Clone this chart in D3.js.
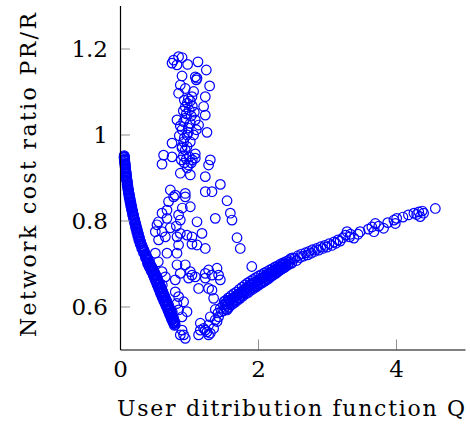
<!DOCTYPE html>
<html>
<head>
<meta charset="utf-8">
<script src="https://cdn.jsdelivr.net/npm/d3@7"></script>
<style>
  body { margin: 0; background: #fff; }
  svg { display: block; }
</style>
</head>
<body>
<div class="chart"></div>
<script>
// tick values / labels
const xTicks = [0, 2, 4];
const xTickLabels = ['0', '2', '4'];
const yTicks = [0.6, 0.8, 1, 1.2];
const yTickLabels = ['0.6', '0.8', '1', '1.2'];

// [Q, PR/R] points
// steep falling band near the y axis
const steepBand = [
  [0.060,0.951],[0.065,0.948],[0.058,0.946],[0.068,0.943],[0.062,0.949],
  [0.064,0.940],[0.070,0.938],[0.066,0.935],[0.074,0.933],[0.068,0.941],
  [0.071,0.930],[0.077,0.928],[0.073,0.925],[0.081,0.922],[0.075,0.931],
  [0.078,0.920],[0.084,0.917],[0.080,0.915],[0.088,0.912],[0.082,0.921],
  [0.086,0.910],[0.091,0.907],[0.087,0.904],[0.096,0.902],[0.089,0.911],
  [0.093,0.900],[0.099,0.897],[0.095,0.894],[0.104,0.892],[0.097,0.901],
  [0.101,0.890],[0.108,0.887],[0.103,0.884],[0.112,0.882],[0.105,0.891],
  [0.109,0.880],[0.116,0.877],[0.112,0.874],[0.122,0.872],[0.114,0.881],
  [0.118,0.870],[0.126,0.867],[0.121,0.864],[0.132,0.862],[0.123,0.871],
  [0.128,0.860],[0.137,0.857],[0.131,0.854],[0.143,0.852],[0.134,0.861],
  [0.140,0.850],[0.149,0.847],[0.143,0.844],[0.156,0.842],[0.146,0.851],
  [0.153,0.840],[0.161,0.837],[0.155,0.834],[0.169,0.832],[0.158,0.841],
  [0.166,0.830],[0.174,0.827],[0.168,0.824],[0.182,0.822],[0.171,0.831],
  [0.179,0.820],[0.188,0.817],[0.181,0.814],[0.196,0.812],[0.184,0.821],
  [0.193,0.810],[0.202,0.807],[0.195,0.804],[0.211,0.802],[0.198,0.811],
  [0.208,0.800],[0.218,0.797],[0.210,0.794],[0.227,0.792],[0.214,0.801],
  [0.224,0.790],[0.234,0.787],[0.225,0.784],[0.243,0.782],[0.230,0.791],
  [0.240,0.780],[0.251,0.777],[0.241,0.774],[0.259,0.772],[0.246,0.781],
  [0.256,0.770],[0.268,0.767],[0.257,0.764],[0.276,0.762],[0.262,0.771],
  [0.272,0.760],[0.285,0.757],[0.273,0.754],[0.294,0.752],[0.279,0.761],
  [0.288,0.750],[0.303,0.747],[0.292,0.745],[0.315,0.742],[0.297,0.751],
  [0.313,0.740],[0.328,0.737],[0.315,0.735],[0.342,0.732],[0.320,0.741],
  [0.338,0.730],[0.355,0.727],[0.340,0.725],[0.369,0.722],[0.346,0.731],
  [0.365,0.720],[0.382,0.717],[0.368,0.714],[0.398,0.712],[0.373,0.721],
  [0.375,0.719],[0.390,0.714],[0.380,0.711],
  [0.393,0.710],[0.412,0.707],[0.397,0.704],[0.430,0.702],[0.402,0.711],
  [0.405,0.709],[0.420,0.704],[0.412,0.701],
  [0.400,0.700],[0.440,0.697],[0.418,0.694],[0.458,0.692],[0.428,0.701],
  [0.412,0.699],[0.448,0.695],[0.432,0.691],
  [0.432,0.690],[0.472,0.687],[0.450,0.684],[0.492,0.682],[0.462,0.691],
  [0.445,0.689],[0.482,0.685],[0.462,0.681],
  [0.466,0.680],[0.505,0.677],[0.480,0.674],[0.522,0.672],[0.494,0.681],
  [0.476,0.679],[0.512,0.675],[0.494,0.671],
  [0.492,0.670],[0.532,0.667],[0.505,0.664],[0.550,0.662],[0.518,0.671],
  [0.500,0.669],[0.540,0.665],[0.520,0.661],
  [0.516,0.660],[0.558,0.657],[0.530,0.654],[0.575,0.652],[0.544,0.661],
  [0.525,0.659],[0.566,0.655],[0.545,0.651],
  [0.540,0.650],[0.584,0.647],[0.556,0.644],[0.600,0.642],[0.568,0.651],
  [0.550,0.649],[0.592,0.645],[0.572,0.641],
  [0.566,0.640],[0.610,0.637],[0.580,0.634],[0.626,0.632],[0.594,0.641],
  [0.575,0.639],[0.618,0.635],[0.598,0.631],
  [0.590,0.630],[0.636,0.627],[0.606,0.624],[0.652,0.622],[0.620,0.631],
  [0.600,0.629],[0.644,0.625],[0.624,0.621],
  [0.616,0.620],[0.662,0.617],[0.632,0.614],[0.678,0.612],[0.646,0.621],
  [0.626,0.619],[0.670,0.615],[0.650,0.611],
  [0.644,0.610],[0.690,0.607],[0.660,0.604],[0.705,0.602],[0.674,0.611],
  [0.654,0.609],[0.698,0.605],[0.680,0.601],
  [0.672,0.600],[0.716,0.597],[0.688,0.594],[0.730,0.592],[0.700,0.601],
  [0.682,0.599],[0.722,0.595],[0.705,0.591],
  [0.698,0.590],[0.740,0.587],[0.714,0.584],[0.754,0.582],[0.726,0.591],
  [0.708,0.589],[0.748,0.585],[0.730,0.581],
  [0.724,0.580],[0.764,0.577],[0.740,0.574],[0.776,0.572],[0.750,0.581],
  [0.734,0.579],[0.770,0.575],[0.756,0.571],
  [0.750,0.570],[0.786,0.567],[0.766,0.564],[0.795,0.562],[0.772,0.571],
  [0.760,0.569],[0.790,0.565],[0.778,0.562],
  [0.780,0.560],[0.800,0.558],[0.790,0.556]
];

// loose cloud between the two branches
const scatterCloud = [
  [0.777,1.173],[0.849,1.181],[0.899,1.179],[0.754,1.166],[0.826,1.162],
  [0.980,1.163],[1.130,1.169],[1.251,1.150],[0.899,1.136],[1.091,1.134],
  [1.106,1.127],[1.116,1.131],[1.299,1.113],[0.874,1.115],[0.849,1.096],
  [0.946,1.107],[1.067,1.100],[1.043,1.088],[1.236,1.088],[0.932,1.080],
  [0.975,1.073],[1.019,1.078],[0.946,1.064],[1.004,1.057],[1.048,1.066],
  [1.077,1.052],[0.961,1.048],[0.917,1.055],[1.033,1.043],[0.990,1.083],
  [1.212,1.065],[1.236,1.045],[0.826,1.034],[0.922,1.030],[1.019,1.026],
  [1.139,1.022],[1.261,1.005],[0.899,1.011],[0.971,0.999],[1.067,0.999],
  [0.754,0.980],[0.922,0.983],[0.899,0.972],[1.019,0.983],[0.946,1.038],
  [0.990,1.015],[1.091,1.034],[0.874,1.020],[0.932,0.992],[0.990,1.005],
  [1.106,1.011],[0.859,0.997],
  [0.632,0.952],[0.609,0.931],[0.754,0.948],[0.899,0.968],[0.946,0.964],
  [0.971,0.972],[0.917,0.950],[0.961,0.943],[1.004,0.948],[1.048,0.941],
  [0.932,0.934],[0.990,0.929],[1.033,0.934],[1.091,0.945],[0.975,0.922],
  [0.888,0.941],[1.091,0.955],[1.309,0.941],[1.284,0.929],[0.874,0.910],
  [1.019,0.906],[1.236,0.902],[1.454,0.884],[0.729,0.871],[0.801,0.859],
  [0.946,0.863],[0.946,0.855],[1.236,0.867],[1.333,0.867],[0.704,0.844],
  [0.777,0.855],[1.019,0.832],[1.551,0.846],[0.681,0.824],[0.609,0.817],
  [1.599,0.817],[1.623,0.801],[1.381,0.805],[0.849,0.813],[0.874,0.801],
  [0.681,0.805],[1.116,0.797],[0.559,0.797],[0.536,0.790],[0.609,0.774],
  [0.512,0.774],[0.874,0.770],[0.826,0.762],[0.971,0.766],[1.043,0.762],
  [1.188,0.770],[0.559,0.755],[0.657,0.762],[1.696,0.760],[1.743,0.735],
  [0.903,0.829],[0.816,0.787],[0.729,0.783],
  [0.681,0.724],[0.826,0.724],[0.849,0.743],[1.043,0.745],[1.116,0.743],
  [1.236,0.735],[0.512,0.724],[0.609,0.681],[0.657,0.669],[0.826,0.697],
  [0.946,0.697],[0.874,0.677],[1.019,0.681],[1.043,0.673],[0.994,0.666],
  [1.091,0.669],[1.236,0.677],[1.284,0.685],[1.406,0.689],[1.429,0.673],
  [1.454,0.662],[1.236,0.666],[0.801,0.662],[1.139,0.642],[1.284,0.642],
  [1.357,0.619],[0.801,0.634],[0.849,0.623],[0.922,0.611],[0.826,0.607],
  [0.971,0.588],[0.849,0.592],[0.899,0.576],[0.899,0.545],[0.922,0.534],
  [0.946,0.526],[0.874,0.534],[0.555,0.704],[0.613,0.650],[0.758,0.587],
  [1.910,0.693],[1.333,0.673],[1.333,0.638]
];

// rising branch to the right
const risingBranch = [
  [1.139,0.534],[1.164,0.545],[1.212,0.549],[1.261,0.541],[1.284,0.534],
  [1.164,0.561],[1.236,0.545],[1.284,0.557],[1.309,0.538],[1.357,0.549],
  [1.309,0.576],[1.406,0.565],[1.381,0.593],[1.429,0.576],[1.381,0.569],
  [1.454,0.596],[1.501,0.604],[1.551,0.592],[1.420,0.585],[1.470,0.588],
  [1.50,0.590],[1.51,0.612],[1.52,0.598],[1.53,0.614],[1.54,0.594],[1.55,0.611],
  [1.56,0.603],[1.57,0.620],[1.58,0.598],[1.59,0.615],[1.60,0.606],[1.61,0.625],
  [1.62,0.604],[1.63,0.619],[1.64,0.611],[1.65,0.630],[1.66,0.609],[1.67,0.622],
  [1.68,0.615],[1.69,0.634],[1.70,0.614],[1.71,0.628],[1.72,0.620],[1.73,0.640],
  [1.74,0.619],[1.75,0.632],[1.76,0.626],[1.77,0.645],[1.78,0.624],[1.79,0.638],
  [1.80,0.631],[1.81,0.650],[1.82,0.629],[1.83,0.642],[1.84,0.636],[1.85,0.655],
  [1.86,0.633],[1.87,0.646],[1.88,0.640],[1.89,0.659],[1.90,0.638],[1.91,0.650],
  [1.92,0.644],[1.93,0.663],[1.94,0.642],[1.95,0.655],[1.96,0.648],[1.97,0.667],
  [1.98,0.646],[1.99,0.659],[2.00,0.652],[2.01,0.671],[2.02,0.651],[2.03,0.663],
  [2.04,0.656],[2.05,0.674],[2.06,0.655],[2.07,0.667],[2.08,0.660],[2.09,0.678],
  [2.10,0.659],[2.11,0.672],[2.12,0.664],[2.13,0.681],[2.14,0.663],[2.15,0.676],
  [2.16,0.668],[2.17,0.685],[2.18,0.668],[2.19,0.680],[2.20,0.672],[2.21,0.688],
  [2.22,0.673],[2.23,0.684],[2.24,0.677],[2.25,0.692],[2.26,0.677],[2.27,0.688],
  [2.28,0.681],[2.29,0.695],[2.30,0.682],[2.31,0.692],[2.32,0.685],[2.33,0.699],
  [2.34,0.687],[2.35,0.696],[2.36,0.689],[2.37,0.702],[2.38,0.690],[2.39,0.699],
  [2.40,0.693],[2.41,0.705],[2.43,0.696],[2.44,0.707],[2.46,0.699],[2.47,0.711],
  [2.49,0.701],[2.50,0.713],
  [1.525,0.606],[1.565,0.612],[1.605,0.616],[1.645,0.620],[1.685,0.625],
  [1.725,0.630],[1.765,0.635],[1.805,0.640],[1.845,0.645],[1.885,0.650],
  [1.925,0.654],[1.965,0.657],[2.005,0.661],[2.045,0.665],[2.085,0.669],
  [2.125,0.672],[2.165,0.677],[2.205,0.680],[2.245,0.684],[2.285,0.688],
  [2.325,0.692],[2.365,0.696],[2.405,0.699],[2.450,0.703],
  [2.53,0.712],[2.56,0.707],[2.58,0.718],[2.61,0.714],[2.63,0.722],[2.66,0.717],
  [2.69,0.725],[2.72,0.720],[2.74,0.728],[2.77,0.724],[2.79,0.732],[2.82,0.728],
  [2.85,0.735],[2.88,0.731],[2.91,0.739],[2.94,0.735],[2.97,0.742],[3.00,0.738],
  [3.03,0.746],[3.07,0.742],[3.10,0.750],[3.13,0.747],[3.16,0.755],[3.19,0.752],
  [3.23,0.760],[3.27,0.766],[3.29,0.774],[3.33,0.762],[3.34,0.768],[3.39,0.759],
  [3.45,0.768],[3.48,0.774],[3.60,0.780],[3.65,0.785],[3.68,0.774],[3.70,0.793],
  [3.75,0.787],[3.82,0.782],[3.88,0.795],[3.97,0.801],[3.99,0.793],[4.01,0.805],
  [4.10,0.808],[4.18,0.813],[4.26,0.817],[4.30,0.814],[4.33,0.820],[4.35,0.809],
  [4.38,0.822],[4.40,0.817],[4.57,0.828]
];

const margin = ({top: 5.5, right: 5, bottom: 76.5, left: 120});
const W = 470, H = 426;
const width = W - margin.left - margin.right;
const height = H - margin.top - margin.bottom;
const font = "DejaVu Serif";

const xScale = d3.scaleLinear().domain([0, 5]).range([0, width]);
const yScale = d3.scaleLinear().domain([0.5, 1.3]).range([height, 0]);

const svg = d3.select('.chart')
    .append('svg')
    .attr('width', W)
    .attr('height', H)
    .append('g')
    .attr('transform', `translate(${margin.left},${margin.top})`);

// points first, axes on top
const allPoints = steepBand.concat(scatterCloud, risingBranch);
svg.append('g')
    .selectAll('circle')
    .data(allPoints)
    .enter()
    .append('circle')
    .attr('cx', d => xScale(d[0]))
    .attr('cy', d => yScale(d[1]))
    .attr('r', 4.8)
    .attr('fill', 'none')
    .attr('stroke', '#0000ff')
    .attr('stroke-width', 1.2);

const xAxis = d3.axisBottom(xScale)
    .tickValues(xTicks)
    .tickFormat((d, i) => xTickLabels[i])
    .tickSizeInner(-10)
    .tickSizeOuter(0)
    .tickPadding(11);

const yAxis = d3.axisLeft(yScale)
    .tickValues(yTicks)
    .tickFormat((d, i) => yTickLabels[i])
    .tickSizeInner(-10)
    .tickSizeOuter(0)
    .tickPadding(12);

const gx = svg.append('g')
    .attr('transform', `translate(0,${height})`)
    .call(xAxis);
const gy = svg.append('g')
    .call(yAxis);

[gx, gy].forEach(g => {
    g.attr('font-family', font).attr('font-size', 23);
    g.selectAll('.tick line').attr('stroke', '#8f8f8f').attr('stroke-width', 1);
    g.selectAll('.tick text').attr('fill', '#000');
    g.select('.domain').attr('stroke', '#000').attr('stroke-width', 1.2).raise();
});
gx.selectAll('.tick').filter(d => d === 0).select('line').remove();
gy.selectAll('.tick text').attr('dy', '0.36em');

svg.append('text')
    .attr('x', -3)
    .attr('y', height + 66.5)
    .attr('font-family', font)
    .attr('font-size', 22)
    .attr('textLength', 348)
    .attr('lengthAdjust', 'spacing')
    .text('User ditribution function Q');

svg.append('text')
    .attr('transform', `translate(-84,${175 - margin.top}) rotate(-90)`)
    .attr('text-anchor', 'middle')
    .attr('font-family', font)
    .attr('font-size', 22)
    .attr('textLength', 324)
    .attr('lengthAdjust', 'spacing')
    .text('Network cost ratio PR/R');
</script>
</body>
</html>
